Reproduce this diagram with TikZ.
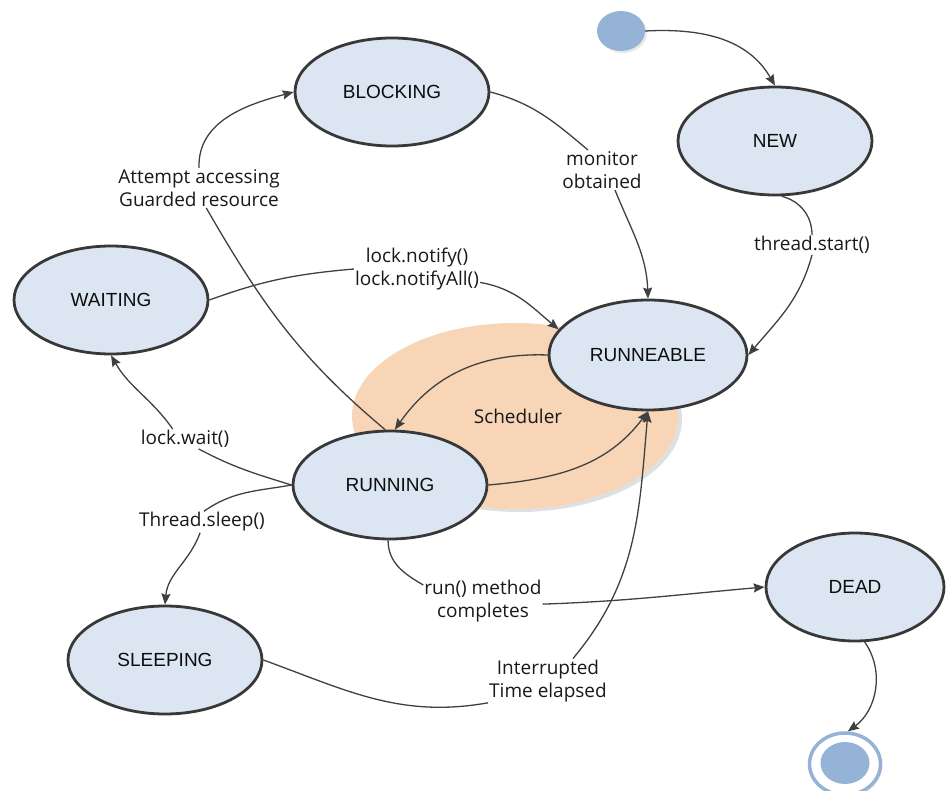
\documentclass[tikz,border=0pt]{standalone}
\usepackage{fontspec}
\setmainfont{Open Sans}
\newfontfamily\statefont{Liberation Sans}
\usetikzlibrary{shapes.geometric,arrows.meta,shadows}

\definecolor{statefill}{HTML}{DCE6F2}
\definecolor{stateline}{HTML}{383838}
\definecolor{dotblue}{HTML}{95B3D7}
\definecolor{schedfill}{HTML}{F8D5B6}
\definecolor{wire}{HTML}{404040}

\tikzset{
  state/.style={ellipse, draw=stateline, line width=2.8pt, fill=statefill,
    minimum width=194pt, minimum height=108pt, inner sep=0pt, text=black!95,
    font=\statefont\fontsize{19}{21}\selectfont},
  lbl/.style={align=center, inner sep=1pt, text=black!90,
    font=\fontsize{19}{23.5}\selectfont},
  flow/.style={draw=wire, line width=1.3pt,
    -{Stealth[length=11pt,width=9pt,inset=1.5pt]}},
  plain/.style={draw=wire, line width=1.3pt},
}

\begin{document}
\begin{tikzpicture}[x=1pt,y=1pt]
\useasboundingbox (0,0) rectangle (950,-791);

% scheduler area behind the two running states
\node[ellipse, fill=schedfill, minimum width=326pt, minimum height=186pt,
  drop shadow={shadow xshift=4pt, shadow yshift=-3pt, fill=black, opacity=0.12}]
  (sched) at (515,-416) {};
\node[lbl] (schedtext) at (518,-416) {Scheduler};

% states
\node[state] (blocking) at (392,-92) {BLOCKING};
\node[state] (new) at (775,-141) {NEW};
\node[state] (waiting) at (111,-300) {WAITING};
\node[state, minimum width=198pt, minimum height=110pt] (runnable) at (648,-355) {RUNNEABLE};
\node[state] (running) at (390,-485) {RUNNING};
\node[state] (sleeping) at (165,-660) {SLEEPING};
\node[state, minimum width=178pt] (dead) at (855,-587) {DEAD};

% pseudo states
\node[ellipse, fill=dotblue, minimum width=48pt, minimum height=40pt, inner sep=0pt,
  drop shadow={shadow xshift=2pt, shadow yshift=-2pt, opacity=0.18}]
  (init) at (621,-31) {};
\node[ellipse, draw=dotblue, line width=3.5pt, fill=white,
  minimum width=71pt, minimum height=62pt, inner sep=0pt,
  drop shadow={shadow xshift=2pt, shadow yshift=-2pt, opacity=0.15}]
  (final) at (845,-764) {};
\node[ellipse, fill=dotblue, minimum width=49pt, minimum height=42pt, inner sep=0pt]
  (finaldot) at (845,-763) {};

% transition labels
\node[lbl] (lstart) at (812,-245) {thread.start()};
\node[lbl] (lmon) at (602,-170) {monitor\\obtained};
\node[lbl] (latt) at (199,-188) {Attempt accessing\\Guarded resource};
\node[lbl] (lnot) at (417,-269) {lock.notify()\\lock.notifyAll()};
\node[lbl] (lwait) at (185,-439) {lock.wait()};
\node[lbl] (lsleep) at (202,-522) {Thread.sleep()};
\node[lbl] (lrun) at (483,-601) {run() method\\completes};
\node[lbl] (lint) at (548,-681) {Interrupted\\Time elapsed};

% transitions
\draw[flow] (init.east) to[out=3, in=120] (new.north);

\draw[plain] (new.-83) to[out=-15, in=90] (lstart.north);
\draw[flow] (lstart.south) to[out=-105, in=50] (runnable.east);

\draw[plain] (blocking.east) to[out=-15, in=140] (lmon.125);
\draw[flow] (lmon.-57) to[out=-68, in=92] (runnable.north);

\draw[plain] (running.95) to[out=140, in=-60] (latt.-70);
\draw[flow] (latt.north) to[out=92, in=195] (blocking.west);

\draw[plain] (waiting.east) to[out=20, in=185] (lnot.west);
\draw[flow] (lnot.-12) to[out=-10, in=140] (runnable.164);

\draw[flow] (runnable.west) to[out=178, in=55] (running.85);
\draw[flow] (running.east) to[out=5, in=-127] (runnable.south);

\draw[plain] (running.west) to[out=163, in=-28] (lwait.-36);
\draw[flow] (lwait.141) to[out=125, in=-60] (waiting.south);

\draw[plain] (running.west) to[out=190, in=35] (lsleep.80);
\draw[flow] (lsleep.-100) to[out=-110, in=85] (sleeping.north);

\draw[plain] (running.-92) to[out=-90, in=150] (lrun.165);
\draw[flow] (lrun.-3) to[out=2, in=185] (dead.west);

\draw[plain] (sleeping.east) to[out=-20, in=190] (lint.200);
\draw[flow] (lint.42) to[out=50, in=-95] (runnable.south);

\draw[flow] (dead.-80) to[out=-55, in=36] (final.85);
\end{tikzpicture}
\end{document}
